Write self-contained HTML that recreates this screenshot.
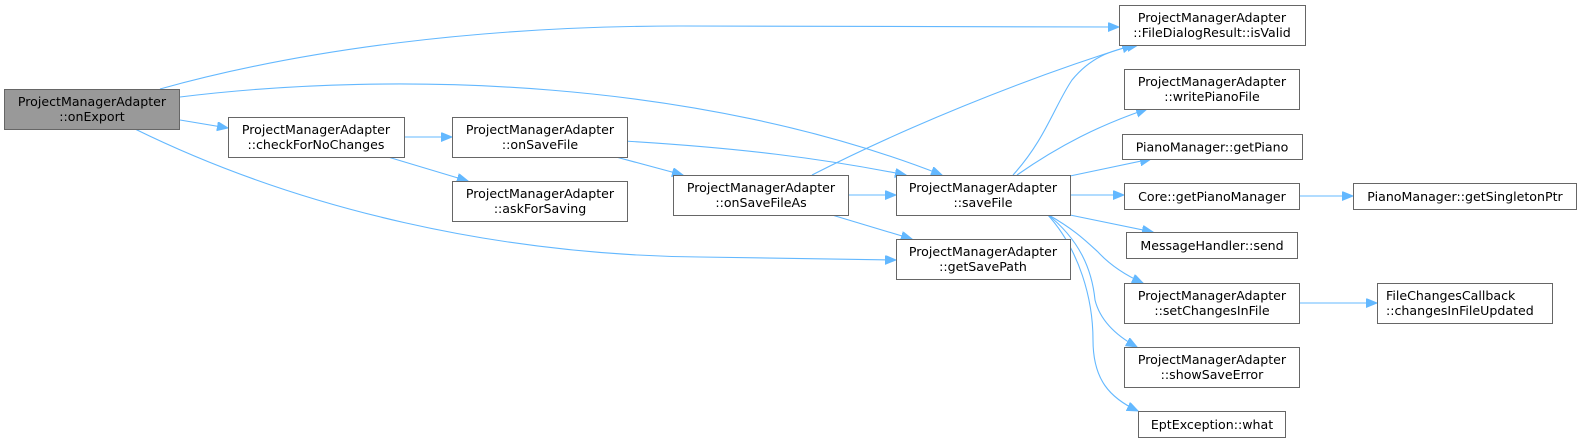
<!DOCTYPE html>
<html><head><meta charset="utf-8"><style>
html,body{margin:0;padding:0;background:#fff;}
svg{display:block;}
text{font-family:"DejaVu Sans","Liberation Sans",sans-serif;font-size:12.6px;fill:#000;text-anchor:middle;}
.b{fill:#fff;stroke:#666;stroke-width:1;}
.e{fill:none;stroke:#63b8ff;stroke-width:1.1;}
</style></head><body>
<svg width="1581" height="442" viewBox="0 0 1581 442" xmlns="http://www.w3.org/2000/svg">
<defs><marker id="a" markerUnits="userSpaceOnUse" markerWidth="12" markerHeight="10" refX="11" refY="4.5" orient="auto"><path d="M0,0 L11,4.5 L0,9 Z" fill="#63b8ff" stroke="#63b8ff"/></marker></defs>
<g marker-end="url(#a)">
<path class="e" d="M160,89 C300,50 480,26 680,26 L1119,27"/>
<path class="e" d="M180,97 C400,70 700,80 942,175"/>
<path class="e" d="M180,120 L228,128"/>
<path class="e" d="M135,129 C300,210 500,255 700,257 L896,260"/>
<path class="e" d="M405,137 L452,137"/>
<path class="e" d="M388,157 L468,181"/>
<path class="e" d="M624,141 C740,148 820,158 906,175"/>
<path class="e" d="M616,157 L683,175"/>
<path class="e" d="M812,175 C900,130 1020,80 1133,45"/>
<path class="e" d="M848,195 L896,195"/>
<path class="e" d="M832,215 L912,239"/>
<path class="e" d="M1013,175 C1045,140 1055,105 1072,80 C1090,58 1110,50 1138,45"/>
<path class="e" d="M1017,175 C1060,145 1100,125 1147,109"/>
<path class="e" d="M1070,176 L1151,159"/>
<path class="e" d="M1070,195 L1124,195"/>
<path class="e" d="M1070,215 L1153,232"/>
<path class="e" d="M1047,214 C1075,230 1085,240 1098,252 C1110,265 1125,275 1143,283"/>
<path class="e" d="M1047,214 C1080,240 1092,270 1095,300 C1100,320 1115,335 1137,347"/>
<path class="e" d="M1047,214 C1080,250 1093,300 1093,340 C1093,380 1110,398 1138,411"/>
<path class="e" d="M1299,196 L1353,196"/>
<path class="e" d="M1299,303 L1377,303"/>
</g>
<rect x="4.5" y="89.5" width="175" height="40" fill="#999" stroke="#666"/>
<text x="92" y="106">ProjectManagerAdapter</text><text x="92" y="121">::onExport</text>
<rect class="b" x="228.5" y="117.5" width="176" height="40"/>
<text x="316" y="134">ProjectManagerAdapter</text><text x="316" y="149">::checkForNoChanges</text>
<rect class="b" x="452.5" y="117.5" width="175" height="40"/>
<text x="540" y="134">ProjectManagerAdapter</text><text x="540" y="149">::onSaveFile</text>
<rect class="b" x="452.5" y="181.5" width="175" height="40"/>
<text x="540" y="198">ProjectManagerAdapter</text><text x="540" y="213">::askForSaving</text>
<rect class="b" x="673.5" y="175.5" width="175" height="40"/>
<text x="761" y="192">ProjectManagerAdapter</text><text x="761" y="207">::onSaveFileAs</text>
<rect class="b" x="896.5" y="175.5" width="174" height="40"/>
<text x="983" y="192">ProjectManagerAdapter</text><text x="983" y="207">::saveFile</text>
<rect class="b" x="896.5" y="239.5" width="174" height="40"/>
<text x="983" y="256">ProjectManagerAdapter</text><text x="983" y="271">::getSavePath</text>
<rect class="b" x="1119.5" y="5.5" width="186" height="40"/>
<text x="1212" y="22">ProjectManagerAdapter</text><text x="1212" y="37">::FileDialogResult::isValid</text>
<rect class="b" x="1124.5" y="69.5" width="175" height="40"/>
<text x="1212" y="86">ProjectManagerAdapter</text><text x="1212" y="101">::writePianoFile</text>
<rect class="b" x="1122.5" y="134.5" width="180" height="25"/>
<text x="1212" y="151.5">PianoManager::getPiano</text>
<rect class="b" x="1124.5" y="183.5" width="175" height="26"/>
<text x="1212" y="201">Core::getPianoManager</text>
<rect class="b" x="1353.5" y="183.5" width="223" height="26"/>
<text x="1465" y="201">PianoManager::getSingletonPtr</text>
<rect class="b" x="1126.5" y="232.5" width="171" height="26"/>
<text x="1212" y="250">MessageHandler::send</text>
<rect class="b" x="1124.5" y="283.5" width="175" height="40"/>
<text x="1212" y="300">ProjectManagerAdapter</text><text x="1212" y="315">::setChangesInFile</text>
<rect class="b" x="1377.5" y="283.5" width="175" height="40"/>
<text x="1386" y="300" style="text-anchor:start">FileChangesCallback</text><text x="1386" y="315" style="text-anchor:start">::changesInFileUpdated</text>
<rect class="b" x="1124.5" y="347.5" width="175" height="40"/>
<text x="1212" y="364">ProjectManagerAdapter</text><text x="1212" y="379">::showSaveError</text>
<rect class="b" x="1138.5" y="411.5" width="147" height="26"/>
<text x="1212" y="429">EptException::what</text>
</svg>
</body></html>
